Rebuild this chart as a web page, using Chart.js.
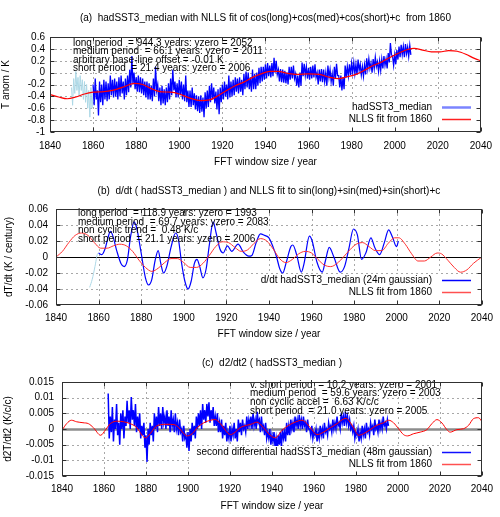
<!DOCTYPE html>
<html><head><meta charset="utf-8">
<script src="https://cdn.jsdelivr.net/npm/chart.js@4.4.1/dist/chart.umd.min.js"></script>
<style>
html,body{margin:0;padding:0;background:#fff;width:500px;height:517px;overflow:hidden;}
canvas{position:absolute;left:0;}
</style></head><body>
<canvas id="ca" width="500" height="170" style="top:0px"></canvas>
<canvas id="cb" width="500" height="170" style="top:170px"></canvas>
<canvas id="cc" width="500" height="177" style="top:340px"></canvas>
<script>
// ---------- shared axis ----------
const xTickYears = [1840,1860,1880,1900,1920,1940,1960,1980,2000,2020,2040];
const xTickLabels = ['1840','1860','1880','1900','1920','1940','1960','1980','2000','2020','2040'];
const xTitle = 'FFT window size / year';

// ---------- panel (a) ----------
const aTitle = '(a)  hadSST3_median with NLLS fit of cos(long)+cos(med)+cos(short)+c  from 1860';
const aYTitle = 'T anom / K';
const aTicks = [-1,-0.8,-0.6,-0.4,-0.2,0,0.2,0.4,0.6];
const aTickLabels = ['-1','-0.8','-0.6','-0.4','-0.2','0','0.2','0.4','0.6'];
const aNotes = ['long period  = 944.3 years: yzero = 2052','medium period  = 66.1 years: yzero = 2011','arbitrary base-line offset = -0.01 K','short period  = 21.4 years: yzero = 2006'];
const aKeyLabels = ['hadSST3_median','NLLS fit from 1860'];
const aPreStart = 1850, aPreStep = 0.5;
const aPreValues = [-0.25,-0.55,-0.1,-0.35,0.02,-0.3,-0.08,-0.4,-0.05,-0.3,-0.12,-0.45,-0.15,-0.5,-0.2,-0.6,-0.3,-0.75,-0.25,-0.6,-0.35];
const aObsStart = 1860, aObsStep = 0.5;
const aObsValues = [
-0.2,-0.55,-0.1,-0.45,-0.3,-0.72,-0.15,-0.5,-0.2,-0.55,-0.12,-0.45,-0.15,-0.48,-0.18,-0.45,-0.05,-0.38,-0.12,-0.42,
-0.1,-0.4,-0.15,-0.45,-0.08,-0.4,-0.05,-0.35,-0.15,-0.45,-0.1,-0.38,-0.05,-0.33,0.05,-0.25,0.28,-0.2,0.0,-0.28,
-0.08,-0.32,-0.05,-0.33,-0.08,-0.35,-0.1,-0.38,-0.15,-0.42,-0.15,-0.45,-0.18,-0.45,-0.22,-0.48,-0.1,-0.4,0.1,-0.3,
-0.2,-0.48,-0.25,-0.55,-0.22,-0.52,-0.28,-0.55,-0.25,-0.5,-0.18,-0.45,-0.1,-0.38,0.05,-0.3,-0.15,-0.42,-0.18,-0.42,
-0.12,-0.38,-0.15,-0.45,-0.2,-0.48,-0.05,-0.5,-0.3,-0.58,-0.3,-0.58,-0.25,-0.55,-0.35,-0.62,-0.38,-0.65,-0.4,-0.68,
-0.38,-0.66,-0.42,-0.75,-0.33,-0.6,-0.3,-0.58,-0.22,-0.5,-0.18,-0.45,-0.25,-0.52,-0.32,-0.62,-0.28,-0.7,-0.25,-0.5,
-0.2,-0.45,-0.15,-0.4,-0.2,-0.45,-0.05,-0.42,-0.15,-0.4,-0.12,-0.38,-0.08,-0.32,-0.1,-0.35,-0.08,-0.32,-0.12,-0.38,
-0.02,-0.28,0.02,-0.25,0.0,-0.28,-0.08,-0.32,0.05,-0.28,-0.02,-0.28,0.0,-0.22,0.08,-0.18,0.1,-0.15,0.1,-0.12,
0.14,-0.1,0.16,-0.06,0.12,-0.08,0.16,-0.06,0.25,0.0,0.2,-0.03,0.05,-0.15,0.06,-0.16,0.05,-0.17,0.03,-0.18,
0.0,-0.2,0.1,-0.12,0.1,-0.1,0.12,-0.1,-0.02,-0.22,-0.05,-0.25,0.0,-0.22,0.17,-0.06,0.15,-0.05,0.1,-0.1,
0.08,-0.12,0.1,-0.1,0.12,-0.08,0.14,-0.08,0.0,-0.2,0.05,-0.15,0.06,-0.16,0.05,-0.15,0.0,-0.22,0.12,-0.08,
0.05,-0.15,-0.02,-0.22,0.1,-0.1,0.15,-0.05,-0.05,-0.25,-0.05,-0.3,-0.08,-0.28,0.12,-0.08,0.1,-0.06,0.14,-0.04,
0.16,0.0,0.17,-0.02,0.14,-0.04,0.22,0.04,0.14,-0.04,0.1,-0.06,0.13,-0.03,0.24,0.06,0.23,0.07,0.16,0.0,
0.23,0.07,0.26,0.1,0.18,0.02,0.2,0.04,0.23,0.07,0.28,0.12,0.23,0.07,0.33,0.17,0.5,0.3,0.28,0.12,
0.3,0.14,0.38,0.22,0.44,0.26,0.47,0.3,0.44,0.26,0.48,0.32,0.43,0.27,0.46,0.3];
const aFitYears = [1840,1844,1848,1852,1856,1860,1865,1870,1875,1879,1883,1887,1891,1896,1900,1905,1910,1914,1918,1922,1926,1930,1934,1938,1942,1946,1950,1955,1960,1965,1970,1974,1978,1982,1986,1990,1994,1998,2002,2006,2009,2013,2017,2021,2025,2029,2033,2037,2040];
const aFitValues = [-0.37,-0.41,-0.44,-0.41,-0.36,-0.33,-0.32,-0.29,-0.23,-0.18,-0.2,-0.27,-0.32,-0.33,-0.36,-0.43,-0.47,-0.46,-0.39,-0.3,-0.22,-0.16,-0.08,-0.02,0.02,0.02,-0.01,-0.03,-0.02,-0.03,-0.08,-0.1,-0.07,-0.03,0.04,0.12,0.18,0.26,0.33,0.39,0.41,0.38,0.35,0.35,0.37,0.36,0.31,0.24,0.2];

// ---------- panel (b) ----------
const bTitle = '(b)  d/dt ( hadSST3_median ) and NLLS fit to sin(long)+sin(med)+sin(short)+c';
const bYTitle = 'dT/dt (K / century)';
const bTicks = [-0.06,-0.04,-0.02,0,0.02,0.04,0.06];
const bTickLabels = ['-0.06','-0.04','-0.02','0','0.02','0.04','0.06'];
const bNotes = ['long period  = 118.9 years: yzero = 1993','medium period  = 69.7 years: yzero = 2083','non cyclic trend =  0.48 K/c','short period  = 21.1 years: yzero = 2006'];
const bKeyLabels = ['d/dt hadSST3_median (24m gaussian)','NLLS fit from 1860'];
const bPreYears = [1855.8,1857,1858.3,1859.5,1860];
const bPreValues = [-0.038,-0.028,-0.012,0.004,0.005];
const bObsYears = [1860,1861.5,1863,1864.5,1865.5,1866.5,1868.5,1870.5,1872,1873.5,1875,1876.7,1878,1880,1882,1883.5,1885,1886.5,1888,1889.2,1890.5,1892,1894,1896.2,1897.5,1899,1900.5,1902,1903.5,1905,1906.2,1907.5,1909,1910.5,1912,1913.8,1915.2,1917,1918.5,1920.5,1922.5,1925.5,1928,1930.5,1932,1934,1936,1938,1940,1942,1943.6,1945,1946.5,1948,1950.3,1951.2,1953,1955.2,1956.5,1959,1960.3,1962.5,1965,1966.5,1968.3,1970.5,1973.5,1975.5,1977.5,1979.7,1981.5,1983.5,1985.5,1987.9,1989.7,1992,1994.2,1996.2,1998,1999.9,2000.8];
const bObsValues = [0.005,0.003,0.01,0.025,0.032,0.028,0.008,-0.008,-0.012,-0.004,0.025,0.044,0.035,0.005,-0.026,-0.035,-0.028,-0.005,0.008,-0.008,-0.02,-0.012,0.012,0.03,0.022,-0.008,-0.03,-0.04,-0.03,-0.008,-0.003,-0.012,-0.026,-0.015,0.015,0.044,0.03,0.01,0.005,0.014,0.007,0.016,0.006,0.001,0.002,0.018,0.029,0.027,0.024,0.012,0.0,-0.014,-0.02,-0.008,0.013,0.015,0.003,-0.019,-0.008,0.026,0.02,-0.006,-0.019,-0.005,0.012,0.0,-0.019,-0.012,0.01,0.035,0.028,-0.003,0.005,0.024,0.012,0.003,0.018,0.034,0.025,0.013,0.02];
const bFitYears = [1840,1843,1846,1849,1852,1855,1858,1861,1864,1867,1870,1873,1876,1879,1882,1885,1888,1891,1894,1897,1900,1903,1906,1909,1912,1915,1918,1921,1924,1927,1930,1933,1936,1939,1942,1945,1948,1951,1954,1957,1960,1963,1966,1969,1972,1975,1978,1981,1984,1987,1990,1993,1996,1999,2001,2004,2007,2010,2013,2016,2019,2021,2024,2027,2030,2033,2036,2040];
const bFitValues = [0.0,0.007,0.018,0.027,0.030,0.027,0.018,0.011,0.011,0.014,0.016,0.014,0.007,-0.004,-0.013,-0.018,-0.014,-0.007,-0.002,-0.002,-0.007,-0.013,-0.013,-0.008,0.002,0.013,0.019,0.018,0.012,0.007,0.009,0.017,0.023,0.02,0.01,-0.002,-0.007,-0.003,0.004,0.007,0.005,-0.003,-0.01,-0.012,-0.008,0.0,0.009,0.016,0.018,0.013,0.008,0.008,0.017,0.024,0.024,0.016,0.004,-0.005,-0.005,0.0,0.005,0.004,-0.004,-0.013,-0.019,-0.016,-0.008,0.0];

// ---------- panel (c) ----------
const cTitle = '(c)  d2/dt2 ( hadSST3_median )';
const cYTitle = 'd2T/dt2 (K/c/c)';
const cTicks = [-0.015,-0.01,-0.005,0,0.005,0.01,0.015];
const cTickLabels = ['-0.015','-0.01','-0.005','0','0.005','0.01','0.015'];
const cNotes = ['v. short period  = 10.2 years: yzero = 2001','medium period  = 59.6 years: yzero = 2003','non cyclic accel =  6.63 K/c/c','short period  = 21.0 years: yzero = 2005'];
const cKeyLabels = ['second differential hadSST3_median (48m gaussian)','NLLS fit from 1860'];
const cObsStart = 1862, cObsStep = 0.5;
const cObsValues = [
0.0113,-0.003,0.004,-0.001,0.007,-0.004,0.003,0.0,0.008,-0.002,0.002,-0.005,0.005,0.0,0.006,-0.003,
0.004,0.001,0.009,0.002,0.006,0.0,0.0102,0.003,0.006,0.001,0.008,-0.001,0.004,0.0,0.005,-0.003,0.001,-0.002,0.002,-0.006,
-0.002,-0.0105,0.0,-0.005,0.002,-0.002,0.001,-0.004,0.005,0.0,0.004,-0.001,0.007,0.001,0.005,0.0,0.007,0.002,0.004,0.0,
0.006,0.001,0.004,-0.001,0.006,0.001,0.003,-0.001,0.005,0.0,0.002,-0.002,0.003,-0.001,0.0,-0.004,0.001,-0.003,-0.002,-0.006,
-0.001,-0.007,0.0,-0.004,0.002,-0.002,0.001,-0.003,0.004,0.0,0.005,0.001,0.006,0.0,0.008,0.003,0.006,0.002,0.008,0.004,
0.0085,0.002,0.006,0.003,0.007,0.001,0.004,0.001,0.005,-0.001,0.002,-0.001,0.003,-0.003,0.001,-0.002,0.002,-0.004,-0.001,-0.003,
0.001,-0.004,0.0,-0.002,0.002,-0.003,0.0,-0.004,0.003,-0.001,0.002,-0.002,0.003,0.0,0.001,-0.001,0.004,0.0,0.003,0.001,
0.004,0.0,0.005,0.001,0.003,0.0,0.0055,0.002,0.003,-0.001,0.004,0.0,0.001,-0.002,0.002,-0.003,-0.001,-0.003,0.0,-0.005,
-0.002,-0.004,-0.001,-0.006,-0.003,-0.0065,-0.002,-0.005,-0.001,-0.006,0.0,-0.003,-0.001,-0.004,0.002,-0.002,0.001,-0.002,0.003,0.0,
0.002,-0.001,0.004,0.001,0.003,0.0,0.0045,0.001,0.003,0.0,0.004,0.001,0.002,-0.001,0.003,0.0,0.0,-0.002,0.001,-0.003,
-0.001,-0.002,0.0,-0.004,-0.001,-0.003,0.001,-0.002,0.0,-0.003,0.002,-0.001,0.0,-0.002,0.002,0.0,0.001,-0.001,0.003,0.0,
0.002,0.0,0.004,0.001,0.002,0.0,0.005,0.002,0.004,0.001,0.0055,0.002,0.004,0.001,0.003,0.0,0.001,-0.001,0.001,-0.003,
-0.001,-0.002,0.0,-0.004,-0.001,-0.003,0.001,-0.002,0.0,-0.003,0.002,-0.001,0.0,-0.002,0.002,0.0,0.001,-0.002,0.003,0.0,
0.001,-0.001,0.003,0.0,0.002,0.0,0.004,0.001,0.002,0.0,0.003,0.001];
const cFitYears = [1840,1842.2,1844.5,1847,1850,1852.6,1855,1858.4,1860.8,1863,1866.2,1869.4,1872.5,1875.7,1878.1,1879.7,1882,1884.4,1887,1890,1893.3,1895.7,1898,1899.7,1902,1904.4,1907.6,1910.8,1913,1915.5,1917.8,1920.2,1922.5,1924.8,1928,1930,1932.9,1936,1939.2,1941.6,1944.8,1948,1951.1,1954.3,1956.7,1959,1961.4,1964.6,1967.8,1971,1974.1,1975.5,1976.5,1978.9,1981.3,1983.7,1986.8,1990,1993.2,1995.6,1997.9,2000.3,2002.7,2004.6,2007.5,2010.6,2013.8,2016.2,2018.6,2021,2023.3,2024.9,2028.1,2031.3,2033.7,2036,2038.4,2040];
const cFitValues = [-0.0004,0.0017,0.0028,0.0023,0.002,0.0017,0.0004,-0.002,-0.0002,0.0017,0.0025,0.0023,0.0017,0.0004,-0.002,-0.0028,-0.0015,0.0006,0.0014,0.0015,0.0014,0.0004,-0.0015,-0.0022,-0.0015,0.0004,0.002,0.0028,0.003,0.0017,-0.0004,-0.0018,-0.001,0.0004,0.0012,0.0015,0.0022,0.0004,-0.002,-0.0028,-0.0004,0.0012,0.0022,0.0028,0.0017,-0.0002,-0.0018,-0.001,0.0004,0.0017,0.0032,0.0034,0.0028,0.0004,-0.002,-0.0015,-0.0002,0.0012,0.002,0.0028,0.002,0.0001,-0.0018,-0.0022,-0.0015,-0.001,-0.0002,0.0017,0.003,0.0019,-0.0002,-0.001,-0.0002,0.0001,0.0012,0.0033,0.0036,0.0024];

// ---------- helpers ----------
const FAM = '"Liberation Sans", Arial, sans-serif';
const FONT = '10px ' + FAM;
const pairs = (xs, ys) => ys.map((v, i) => ({x: xs[i], y: v}));
const stepped = (start, step, ys) => ys.map((v, i) => ({x: start + i * step, y: v}));

const panelCfg = {
  ca: { title: aTitle, titleY: 18, notes: aNotes, notesX: 73, notesY: [43, 51.4, 59.8, 68.2],
        keyBox: [340, 99, 142, 33], keyRight: 432, keySample: [442, 471],
        key: [{t: aKeyLabels[0], y: 107, c: 'rgba(100,110,255,0.85)', w: 2.5}, {t: aKeyLabels[1], y: 119, c: '#ff2020', w: 1.5}],
        yTicks: aTicks, zero: null },
  cb: { title: bTitle, titleY: 21, notes: bNotes, notesX: 78, notesY: [43.3, 52, 60.7, 69.3],
        keyBox: [250, 104, 232, 31], keyRight: 432, keySample: [442, 471],
        key: [{t: bKeyLabels[0], y: 110, c: '#0000ff', w: 1.5}, {t: bKeyLabels[1], y: 122, c: '#ff5050', w: 1.5}],
        yTicks: bTicks, zero: {color: '#000', width: 1} },
  cc: { title: cTitle, titleY: 23, notes: cNotes, notesX: 250, notesY: [45, 53.7, 62.3, 71],
        keyBox: [190, 106, 292, 30], keyRight: 432, keySample: [442, 471],
        key: [{t: cKeyLabels[0], y: 112, c: '#1010ff', w: 1.5}, {t: cKeyLabels[1], y: 124, c: '#ff5050', w: 1.5}],
        yTicks: cTicks, zero: {color: '#8c8c8c', width: 2.5} }
};

const gp = {
  id: 'gp',
  beforeDatasetsDraw(chart) {
    const cfg = panelCfg[chart.canvas.id];
    const {ctx, chartArea: ca, scales: {x, y}} = chart;
    ctx.save();
    ctx.strokeStyle = '#a8a8a8'; ctx.lineWidth = 1; ctx.setLineDash([2, 3]);
    ctx.beginPath();
    xTickYears.forEach(v => {
      if (v > x.min && v < x.max) { const px = Math.round(x.getPixelForValue(v)) + 0.5; ctx.moveTo(px, ca.top); ctx.lineTo(px, ca.bottom); }
    });
    cfg.yTicks.forEach(v => {
      if (v > y.min && v < y.max) { const py = Math.round(y.getPixelForValue(v)) + 0.5; ctx.moveTo(ca.left, py); ctx.lineTo(ca.right, py); }
    });
    ctx.stroke();
    ctx.setLineDash([]);
    if (cfg.zero) {
      const py = Math.round(y.getPixelForValue(0)) + 0.5;
      ctx.strokeStyle = cfg.zero.color; ctx.lineWidth = cfg.zero.width;
      ctx.beginPath(); ctx.moveTo(ca.left, py); ctx.lineTo(ca.right, py); ctx.stroke();
    }
    ctx.restore();
  },
  afterDatasetsDraw(chart) {
    const cfg = panelCfg[chart.canvas.id];
    const {ctx, chartArea: ca, scales: {x, y}} = chart;
    ctx.save();
    const kb = cfg.keyBox;
    ctx.fillStyle = '#fff'; ctx.fillRect(kb[0], kb[1], kb[2], kb[3]);
    ctx.font = FONT; ctx.fillStyle = '#000'; ctx.textBaseline = 'middle';
    ctx.textAlign = 'right';
    cfg.key.forEach(k => {
      ctx.fillStyle = '#000'; ctx.fillText(k.t, cfg.keyRight, k.y);
      ctx.strokeStyle = k.c; ctx.lineWidth = k.w;
      ctx.beginPath(); ctx.moveTo(cfg.keySample[0], k.y + 0.5); ctx.lineTo(cfg.keySample[1], k.y + 0.5); ctx.stroke();
    });
    ctx.textAlign = 'left'; ctx.fillStyle = '#000';
    cfg.notes.forEach((t, i) => ctx.fillText(t, cfg.notesX, cfg.notesY[i]));
    ctx.textAlign = 'center';
    ctx.fillText(cfg.title, (ca.left + ca.right) / 2, cfg.titleY);
    ctx.strokeStyle = '#303030'; ctx.lineWidth = 1;
    const L = Math.round(ca.left) + 0.5, R = Math.round(ca.right) - 0.5, T = Math.round(ca.top) + 0.5, B = Math.round(ca.bottom) - 0.5;
    ctx.strokeRect(L, T, R - L, B - T);
    ctx.beginPath();
    xTickYears.forEach(v => {
      const px = Math.round(x.getPixelForValue(v)) + 0.5;
      ctx.moveTo(px, B); ctx.lineTo(px, B - 4);
      ctx.moveTo(px, T); ctx.lineTo(px, T + 4);
    });
    cfg.yTicks.forEach(v => {
      const py = Math.round(y.getPixelForValue(v)) + 0.5;
      ctx.moveTo(L, py); ctx.lineTo(L + 4, py);
      ctx.moveTo(R, py); ctx.lineTo(R - 4, py);
    });
    ctx.stroke();
    ctx.restore();
  }
};

function makeChart(id, datasets, yMin, yMax, yTicks, yLabels, yTitle, geo) {
  return new Chart(document.getElementById(id), {
    type: 'line',
    data: { datasets },
    options: {
      responsive: false, animation: false, devicePixelRatio: 1,
      layout: { padding: { top: geo.top, right: 18, left: 0, bottom: 0 } },
      plugins: { legend: { display: false }, tooltip: { enabled: false }, title: { display: false } },
      elements: { point: { radius: 0 } },
      scales: {
        x: {
          type: 'linear', min: 1840, max: 2040,
          afterBuildTicks: s => { s.ticks = xTickYears.map(v => ({ value: v })); },
          ticks: { autoSkip: false, maxRotation: 0, minRotation: 0, padding: geo.xPad, color: '#000', font: { family: FAM, size: 10 },
                   callback: v => { const i = xTickYears.indexOf(v); return i >= 0 ? xTickLabels[i] : ''; } },
          grid: { display: false, drawTicks: false }, border: { display: false },
          title: { display: true, text: xTitle, color: '#000', font: { family: FAM, size: 10 }, padding: { top: 0, bottom: geo.xTitlePad } },
          afterFit: s => { s.height = geo.xH; }
        },
        y: {
          type: 'linear', min: yMin, max: yMax,
          afterBuildTicks: s => { s.ticks = yTicks.map(v => ({ value: v })); },
          ticks: { autoSkip: false, padding: geo.yPad, color: '#000', font: { family: FAM, size: 10 },
                   callback: v => { const i = yTicks.indexOf(v); return i >= 0 ? yLabels[i] : ''; } },
          grid: { display: false, drawTicks: false }, border: { display: false },
          title: { display: true, text: yTitle, color: '#000', font: { family: FAM, size: 10 }, padding: { top: geo.yTitlePad, bottom: 0 } },
          afterFit: s => { s.width = geo.yW; }
        }
      }
    },
    plugins: [gp]
  });
}

makeChart('ca', [
  { data: pairs(aFitYears, aFitValues), borderColor: '#ff0000', borderWidth: 1.2, cubicInterpolationMode: 'monotone', order: 0 },
  { data: stepped(aObsStart, aObsStep, aObsValues), borderColor: '#0000ff', borderWidth: 1.3, tension: 0, order: 1 },
  { data: stepped(aPreStart, aPreStep, aPreValues), borderColor: '#add8e6', borderWidth: 1, tension: 0, order: 2 }
], -1, 0.6, aTicks, aTickLabels, aYTitle, { top: 37, xH: 38, yW: 50, xPad: 8, yPad: 5, xTitlePad: 2, yTitlePad: 0 });

makeChart('cb', [
  { data: pairs(bFitYears, bFitValues), borderColor: '#ff3030', borderWidth: 1, cubicInterpolationMode: 'monotone', order: 0 },
  { data: pairs(bObsYears, bObsValues), borderColor: '#0000ff', borderWidth: 1.2, cubicInterpolationMode: 'monotone', order: 1 },
  { data: pairs(bPreYears, bPreValues), borderColor: '#add8e6', borderWidth: 1, cubicInterpolationMode: 'monotone', order: 2 }
], -0.06, 0.06, bTicks, bTickLabels, bYTitle, { top: 39, xH: 35, yW: 56, xPad: 7, yPad: 8, xTitlePad: 0, yTitlePad: 3 });

makeChart('cc', [
  { data: pairs(cFitYears, cFitValues), borderColor: '#ff0000', borderWidth: 1, cubicInterpolationMode: 'monotone', order: 0 },
  { data: stepped(cObsStart, cObsStep, cObsValues), borderColor: '#0000ff', borderWidth: 1.5, tension: 0, order: 1 }
], -0.015, 0.015, cTicks, cTickLabels, cYTitle, { top: 42, xH: 41, yW: 62, xPad: 7, yPad: 8, xTitlePad: 5, yTitlePad: 2 });
</script></body></html>
